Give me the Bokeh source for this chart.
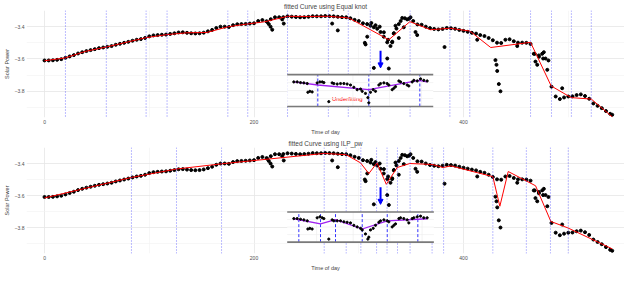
from bokeh.plotting import figure
from bokeh.layouts import column
from bokeh.models import Range1d, FixedTicker, Span, BoxAnnotation, Arrow, NormalHead, Label
from bokeh.embed import file_html
from bokeh.resources import INLINE

# ---------------- data ----------------
TIME = list(range(0, 541, 4))
POWER = [
    -3.609, -3.609, -3.608, -3.605, -3.601, -3.593, -3.584, -3.576, -3.566, -3.558,
    -3.551, -3.545, -3.539, -3.533, -3.529, -3.525, -3.520, -3.512, -3.506, -3.500,
    -3.494, -3.487, -3.481, -3.477, -3.470, -3.460, -3.454, -3.452, -3.450, -3.449,
    -3.445, -3.441, -3.436, -3.435, -3.438, -3.441, -3.442, -3.441, -3.437, -3.429,
    -3.420, -3.408, -3.400, -3.400, -3.402, -3.391, -3.385, -3.384, -3.383, -3.381,
    -3.379, -3.365, -3.359, -3.366, -3.354, -3.342, -3.342, -3.341, -3.336, -3.338,
    -3.340, -3.342, -3.341, -3.339, -3.335, -3.336, -3.336, -3.334, -3.335, -3.336,
    -3.339, -3.341, -3.342, -3.348, -3.358, -3.365, -3.379, -3.384, -3.377, -3.391,
    -3.400, -3.435, -3.481, -3.493, -3.412, -3.365, -3.348, -3.351, -3.365, -3.386,
    -3.388, -3.400, -3.409, -3.414, -3.417, -3.414, -3.408, -3.410, -3.413, -3.420,
    -3.426, -3.432, -3.438, -3.443, -3.452, -3.458, -3.470, -3.484, -3.499, -3.501,
    -3.481, -3.478, -3.490, -3.499, -3.499, -3.500, -3.507, -3.568, -3.586, -3.597,
    -3.667, -3.771, -3.832, -3.848, -3.838, -3.832, -3.831, -3.823, -3.819, -3.829,
    -3.846, -3.875, -3.890, -3.904, -3.922, -3.939,
]
EXTRA_T = [212.6, 214.1, 215.8, 217.4, 226.9, 228.4, 274.6, 280.0, 305.8, 308.1,
           314.4, 327.2, 328.7, 330.3, 338.2, 333.5, 354.2, 355.8, 381.9, 413.1,
           430.5, 431.5, 432.2, 433.7, 435.3, 451.3, 467.1, 468.7, 470.4, 471.9,
           475.1, 476.7, 478.3, 481.1, 494.2, 311.2, 314.4, 317.6, 320.8, 323.9,
           327.2, 331.9, 333.5, 335.1, 338.2, 341.5, 343.0, 346.2, 349.4, 306.5, 542.0]
EXTRA_V = [-3.371, -3.384, -3.400, -3.419, -3.355, -3.381, -3.381, -3.423, -3.500, -3.462,
           -3.655, -3.597, -3.659, -3.520, -3.470, -3.441, -3.433, -3.452, -3.526, -3.481,
           -3.607, -3.636, -3.674, -3.755, -3.800, -3.520, -3.568, -3.616, -3.636, -3.578,
           -3.568, -3.558, -3.597, -3.609, -3.781, -3.394, -3.404, -3.413, -3.433, -3.462,
           -3.497, -3.497, -3.442, -3.394, -3.384, -3.346, -3.404, -3.355, -3.342, -3.510, -3.945]

EQ_KNOTS = [20, 59, 97, 117, 175, 194, 232, 271, 290, 311, 349, 387, 406, 464, 484, 503, 522]
EQ_FIT_T = [0, 20, 39, 59, 78, 97, 117, 136, 155, 175, 194, 210, 232, 252, 271, 290.5,
            328.7, 348.8, 368.5, 387, 406, 426, 464, 483.7, 502.8, 522, 542]
EQ_FIT_V = [-3.611, -3.593, -3.553, -3.526, -3.497, -3.468, -3.449, -3.438, -3.436, -3.401,
            -3.383, -3.370, -3.336, -3.337, -3.336, -3.346, -3.481, -3.369, -3.419, -3.410,
            -3.427, -3.529, -3.497, -3.767, -3.839, -3.848, -3.958]

ILP_KNOTS = [83, 126, 169, 267, 288, 302, 317, 327, 337, 349, 370, 381, 428, 460, 483, 500]
ILP_FIT_T = [0, 83.1, 126.3, 169, 266.6, 288, 301.7, 309.6, 317.4, 326.3, 336.7, 348.8,
             370, 380.6, 388, 428, 434.7, 442.7, 468.8, 483.4, 499.6, 542]
ILP_FIT_V = [-3.615, -3.487, -3.434, -3.402, -3.337, -3.345, -3.396, -3.463, -3.396, -3.530,
             -3.425, -3.400, -3.406, -3.425, -3.415, -3.482, -3.667, -3.450, -3.539, -3.762,
             -3.802, -3.933]

# zoomed insets (drawn in the main panel's coordinates)
INSET_T = [238.0, 241.2, 244.4, 247.6, 250.8, 251.4, 253.3, 255.5, 260.3, 262.9, 265.1, 266.7,
           271.4, 274.6, 276.2, 279.4, 282.6, 285.8, 288.9, 292.1, 295.3, 298.5, 301.7, 303.3,
           306.4, 308.7, 309.6, 311.2, 313.8, 316.0, 319.2, 320.8, 324.0, 327.1, 328.7, 331.9,
           333.5, 335.1, 338.3, 339.9, 343.0, 346.2, 347.8, 351.0, 352.6, 355.8, 359.0, 362.1, 365.3]
INSET1_V = [-3.742, -3.742, -3.746, -3.748, -3.752, -3.806, -3.800, -3.804, -3.748, -3.742,
            -3.742, -3.746, -3.864, -3.748, -3.752, -3.755, -3.752, -3.752, -3.755, -3.761,
            -3.775, -3.790, -3.786, -3.800, -3.813, -3.839, -3.871, -3.806, -3.790, -3.800,
            -3.761, -3.752, -3.748, -3.752, -3.761, -3.790, -3.781, -3.771, -3.736, -3.742,
            -3.752, -3.761, -3.767, -3.742, -3.732, -3.736, -3.723, -3.732, -3.736]
INSET2_V = [-3.744, -3.744, -3.748, -3.752, -3.758, -3.809, -3.805, -3.809, -3.739, -3.733,
            -3.739, -3.744, -3.872, -3.752, -3.758, -3.758, -3.758, -3.764, -3.767, -3.771,
            -3.786, -3.796, -3.805, -3.815, -3.840, -3.872, -3.860, -3.815, -3.805, -3.786,
            -3.767, -3.758, -3.752, -3.758, -3.764, -3.796, -3.786, -3.777, -3.744, -3.739,
            -3.744, -3.752, -3.771, -3.744, -3.739, -3.733, -3.729, -3.739, -3.739]
INSET1_FIT_T = [238.0, 260.9, 309.6, 357.4, 365.3]
INSET1_FIT_V = [-3.742, -3.761, -3.790, -3.732, -3.742]
INSET1_KNOTS = [260.9, 309.6, 358.3]
INSET2_FIT_T = [238.0, 263.5, 277.8, 303.3, 327.2, 365.3]
INSET2_FIT_V = [-3.745, -3.777, -3.751, -3.809, -3.758, -3.745]
INSET2_KNOTS = [242.8, 263.5, 277.8, 303.3, 327.2, 356.4]

ARROW_T = 320.8
ARROW_V = [-3.549, -3.655]

X_TICKS = [0, 200, 400]
X_MINOR = [100, 300, 500]
Y_TICKS = [-3.8, -3.6, -3.4]
Y_MINOR = [-3.9, -3.7, -3.5, -3.3]

# ---------------- styling ----------------
FONT = "Liberation Sans"
X_RANGE = (-17.2, 553.7)
Y_RANGE = (-3.962, -3.300)
INSET1_BOX = (231.7, 371.1, -3.894, -3.697)
INSET2_BOX = (231.7, 371.7, -3.891, -3.703)


def panel(title, height, fit_t, fit_v, knots, ins_v, ins_fit_t, ins_fit_v, ins_knots, box, note):
    p = figure(width=624, height=height, output_backend="svg", toolbar_location=None,
               x_range=Range1d(*X_RANGE), y_range=Range1d(*Y_RANGE), title=title,
               min_border_left=0, min_border_right=0, min_border_top=0, min_border_bottom=0)
    p.outline_line_color = None
    p.background_fill_color = "white"
    p.title.align = "center"
    p.title.text_font = FONT
    p.title.text_font_size = "6.5px"
    p.title.text_font_style = "normal"
    p.title.standoff = 1
    p.title.offset = 0
    p.xaxis.ticker = FixedTicker(ticks=X_TICKS, minor_ticks=X_MINOR)
    p.yaxis.ticker = FixedTicker(ticks=Y_TICKS, minor_ticks=Y_MINOR)
    p.xaxis.axis_label = "Time of day"
    p.yaxis.axis_label = "Solar Power"
    for ax in (p.xaxis, p.yaxis):
        ax.axis_line_color = None
        ax.major_tick_line_color = None
        ax.minor_tick_line_color = None
        ax.major_tick_out = 0
        ax.major_tick_in = 0
        ax.minor_tick_out = 0
        ax.minor_tick_in = 0
        ax.major_label_text_font = FONT
        ax.major_label_text_font_size = "5px"
        ax.major_label_text_color = "#4d4d4d"
        ax.axis_label_text_font = FONT
        ax.axis_label_text_font_size = "5.5px"
        ax.axis_label_text_font_style = "normal"
        ax.axis_label_standoff = 2
        ax.major_label_standoff = 2
    for g in (p.xgrid, p.ygrid):
        g.grid_line_color = "#e6e6e6"
        g.grid_line_width = 0.8
        g.minor_grid_line_color = "#f2f2f2"
        g.minor_grid_line_width = 0.6

    for k in knots:
        p.add_layout(Span(location=k, dimension="height", line_color="#3b3bff", line_alpha=0.75,
                          line_dash="1 2", line_width=0.9))

    p.scatter(TIME, POWER, size=3.0, color="black")
    p.scatter(EXTRA_T, EXTRA_V, size=3.0, color="black")
    p.line(fit_t, fit_v, color="red", line_width=1)

    t0, t1, v0, v1 = box
    p.add_layout(BoxAnnotation(left=t0, right=t1, bottom=v0, top=v1, fill_color="white",
                               fill_alpha=1, line_color=None))
    # inset grid
    gv = [v0 + (v1 - v0) * f for f in (0.25, 0.5, 0.75)]
    p.segment(x0=[t0] * 3, x1=[t1] * 3, y0=gv, y1=gv, color="#ececec", line_width=0.6, level="overlay")
    gt = [t0 + (t1 - t0) * f for f in (0.2, 0.45, 0.7, 0.92)]
    p.segment(x0=gt, x1=gt, y0=[v0] * 4, y1=[v1] * 4, color="#ececec", line_width=0.6, level="overlay")
    p.segment(x0=ins_knots, x1=ins_knots, y0=[v0] * len(ins_knots), y1=[v1] * len(ins_knots),
              color="blue", line_alpha=0.8, line_dash="3 2", line_width=1, level="overlay")
    p.segment(x0=[t0, t0], x1=[t1, t1], y0=[v0, v1], y1=[v0, v1], color="#7a7a7a",
              line_width=1.6, level="overlay")
    p.line(ins_fit_t, ins_fit_v, color="#a020f0", line_width=1.3, level="overlay")
    p.scatter(INSET_T, ins_v, size=2.2, color="black", level="overlay")
    if note:
        p.add_layout(Label(x=289, y=-3.845, text=note, text_color="red", text_font=FONT,
                           text_font_size="6px", text_align="center", text_baseline="middle"))

    p.add_layout(Arrow(end=NormalHead(size=5, fill_color="blue", line_color="blue"),
                       x_start=ARROW_T, y_start=ARROW_V[0], x_end=ARROW_T, y_end=ARROW_V[1],
                       line_color="blue", line_width=2))
    return p


p1 = panel("fitted Curve using Equal knot", 137, EQ_FIT_T, EQ_FIT_V, EQ_KNOTS, INSET1_V,
           INSET1_FIT_T, INSET1_FIT_V, INSET1_KNOTS, INSET1_BOX, "Underfitting")
p2 = panel("fitted Curve using ILP_pw", 136, ILP_FIT_T, ILP_FIT_V, ILP_KNOTS, INSET2_V,
           INSET2_FIT_T, INSET2_FIT_V, INSET2_KNOTS, INSET2_BOX, None)

layout = column(p1, p2, spacing=0)
open("out.html", "w").write(file_html(layout, INLINE))
